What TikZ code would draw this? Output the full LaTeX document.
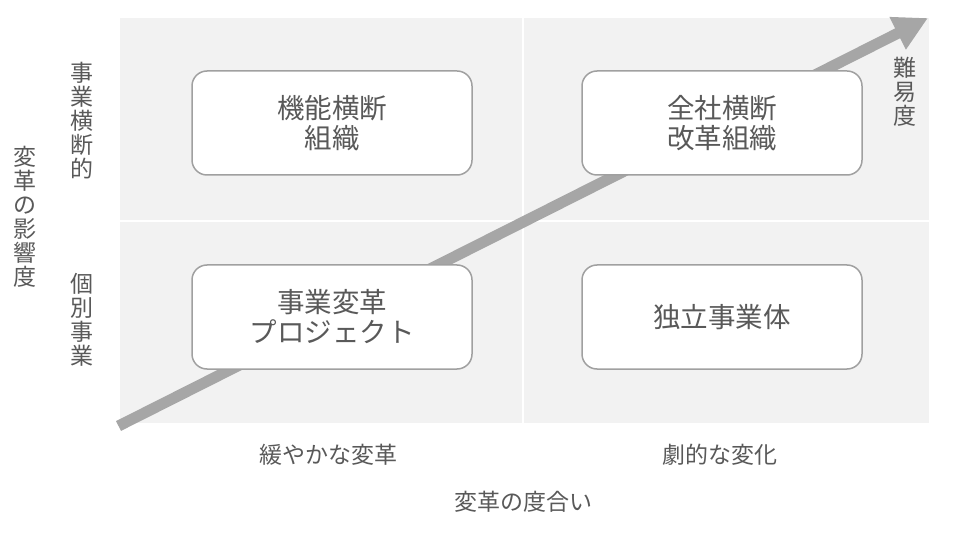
\documentclass[tikz,border=0pt]{standalone}
\usepackage{fontspec}
\setmainfont{Noto Sans CJK JP}
\usetikzlibrary{arrows.meta}
\definecolor{bggray}{HTML}{F2F2F2}
\definecolor{txtgray}{HTML}{595959}
\definecolor{bordergray}{HTML}{A0A0A0}
\definecolor{arrowgray}{HTML}{A6A6A6}
\tikzset{
  quad/.style={fill=bggray, draw=none},
  card/.style={draw=bordergray, line width=1.5pt, fill=white, rounded corners=15pt,
    minimum width=280pt, minimum height=104pt, inner sep=0pt, align=center,
    text=txtgray, font=\fontsize{27.5}{30}\selectfont},
  lbl/.style={text=txtgray, inner sep=0pt, align=center, font=\fontsize{23}{24}\selectfont},
  vlbl/.style={text=txtgray, inner sep=0pt, align=center, font=\fontsize{23}{24}\selectfont},
  bigarrow/.style={draw=arrowgray, line width=11pt, line cap=butt,
    -{Triangle[length=34pt,width=34pt]}}
}
\begin{document}
\begin{tikzpicture}[x=1pt,y=-1pt]
\useasboundingbox (0,0) rectangle (960,534);
% quadrants
\fill[quad] (120,18) rectangle (522,220);
\fill[quad] (524,18) rectangle (929,220);
\fill[quad] (120,222) rectangle (522,423);
\fill[quad] (524,222) rectangle (929,423);
% arrow
\coordinate (as) at (118.5,426);
\coordinate (ae) at (928,18);
\draw[bigarrow] (as) -- (ae);
% cards
\node[card] (c1) at (332,123) {機能横断\\組織};
\node[card] (c2) at (722,123) {全社横断\\改革組織};
\node[card] (c3) at (332,317) {事業変革\\プロジェクト};
\node[card] (c4) at (722,317) {独立事業体};
% labels
\node[vlbl] (ly) at (25,217) {変\\革\\の\\影\\響\\度};
\node[vlbl] (l1) at (82,121) {事\\業\\横\\断\\的};
\node[vlbl] (l2) at (82,320) {個\\別\\事\\業};
\node[vlbl] (ld) at (905,92) {難\\易\\度};
\node[lbl] (b1) at (328,455) {緩やかな変革};
\node[lbl] (b2) at (720,455) {劇的な変化};
\node[lbl] (bx) at (523,502) {変革の度合い};
\end{tikzpicture}
\end{document}
